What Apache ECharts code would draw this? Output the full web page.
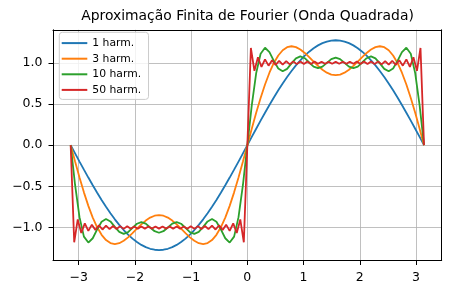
<!DOCTYPE html>
<html>
<head>
<meta charset="utf-8">
<script src="https://cdn.jsdelivr.net/npm/echarts@6/dist/echarts.min.js"></script>
<style>
html,body{margin:0;padding:0;background:#fff;}
#chart{width:450px;height:294px;}
</style>
</head>
<body>
<div id="chart"></div>
<script>
const titleText = 'Aproximação Finita de Fourier (Onda Quadrada)';
const seriesNames = ['1 harm.', '3 harm.', '10 harm.', '50 harm.'];
const seriesColors = ['#1f77b4', '#ff7f0e', '#2ca02c', '#d62728'];

const xGrid = [-3.1416,-3.0631,-2.9845,-2.9060,-2.8274,-2.7489,-2.6704,-2.5918,-2.5133,-2.4347,-2.3562,-2.2777,-2.1991,-2.1206,-2.0420,-1.9635,-1.8850,-1.8064,-1.7279,-1.6493,-1.5708,-1.4923,-1.4137,-1.3352,-1.2566,-1.1781,-1.0996,-1.0210,-0.9425,-0.8639,-0.7854,-0.7069,-0.6283,-0.5498,-0.4712,-0.3927,-0.3142,-0.2356,-0.1571,-0.0785,0,0.0785,0.1571,0.2356,0.3142,0.3927,0.4712,0.5498,0.6283,0.7069,0.7854,0.8639,0.9425,1.0210,1.0996,1.1781,1.2566,1.3352,1.4137,1.4923,1.5708,1.6493,1.7279,1.8064,1.8850,1.9635,2.0420,2.1206,2.1991,2.2777,2.3562,2.4347,2.5133,2.5918,2.6704,2.7489,2.8274,2.9060,2.9845,3.0631,3.1416];

const harm1 = [0,-0.0999,-0.1992,-0.2972,-0.3935,-0.4872,-0.5780,-0.6653,-0.7484,-0.8269,-0.9003,-0.9682,-1.0301,-1.0856,-1.1345,-1.1763,-1.2109,-1.2381,-1.2576,-1.2693,-1.2732,-1.2693,-1.2576,-1.2381,-1.2109,-1.1763,-1.1345,-1.0856,-1.0301,-0.9682,-0.9003,-0.8269,-0.7484,-0.6653,-0.5780,-0.4872,-0.3935,-0.2972,-0.1992,-0.0999,0,0.0999,0.1992,0.2972,0.3935,0.4872,0.5780,0.6653,0.7484,0.8269,0.9003,0.9682,1.0301,1.0856,1.1345,1.1763,1.2109,1.2381,1.2576,1.2693,1.2732,1.2693,1.2576,1.2381,1.2109,1.1763,1.1345,1.0856,1.0301,0.9682,0.9003,0.8269,0.7484,0.6653,0.5780,0.4872,0.3935,0.2972,0.1992,0.0999,0];

const harm3 = [0,-0.1990,-0.3919,-0.5729,-0.7368,-0.8794,-0.9972,-1.0884,-1.1520,-1.1888,-1.2004,-1.1900,-1.1612,-1.1189,-1.0681,-1.0139,-0.9615,-0.9153,-0.8794,-0.8566,-0.8488,-0.8566,-0.8794,-0.9153,-0.9615,-1.0139,-1.0681,-1.1189,-1.1612,-1.1900,-1.2004,-1.1888,-1.1520,-1.0884,-0.9972,-0.8794,-0.7368,-0.5729,-0.3919,-0.1990,0,0.1990,0.3919,0.5729,0.7368,0.8794,0.9972,1.0884,1.1520,1.1888,1.2004,1.1900,1.1612,1.1189,1.0681,1.0139,0.9615,0.9153,0.8794,0.8566,0.8488,0.8566,0.8794,0.9153,0.9615,1.0139,1.0681,1.1189,1.1612,1.1900,1.2004,1.1888,1.1520,1.0884,0.9972,0.8794,0.7368,0.5729,0.3919,0.1990,0];

const harm10 = [0,-0.4834,-0.8737,-1.1101,-1.1823,-1.1301,-1.0228,-0.9301,-0.8959,-0.9256,-0.9918,-1.0533,-1.0773,-1.0550,-1.0035,-0.9538,-0.9338,-0.9531,-0.9990,-1.0444,-1.0631,-1.0444,-0.9990,-0.9531,-0.9338,-0.9538,-1.0035,-1.0550,-1.0773,-1.0533,-0.9918,-0.9256,-0.8959,-0.9301,-1.0228,-1.1301,-1.1823,-1.1101,-0.8737,-0.4834,0,0.4834,0.8737,1.1101,1.1823,1.1301,1.0228,0.9301,0.8959,0.9256,0.9918,1.0533,1.0773,1.0550,1.0035,0.9538,0.9338,0.9531,0.9990,1.0444,1.0631,1.0444,0.9990,0.9531,0.9338,0.9538,1.0035,1.0550,1.0773,1.0533,0.9918,0.9256,0.8959,0.9301,1.0228,1.1301,1.1823,1.1101,0.8737,0.4834,0];

const xFine = [-3.1416,-3.0788,-3.0159,-2.9531,-2.8903,-2.8274,-2.7646,-2.7018,-2.6389,-2.5761,-2.5133,-2.4504,-2.3876,-2.3248,-2.2619,-2.1991,-2.1363,-2.0735,-2.0106,-1.9478,-1.8850,-1.8221,-1.7593,-1.6965,-1.6336,-1.5708,-1.5080,-1.4451,-1.3823,-1.3195,-1.2566,-1.1938,-1.1310,-1.0681,-1.0053,-0.9425,-0.8796,-0.8168,-0.7540,-0.6912,-0.6283,-0.5655,-0.5027,-0.4398,-0.3770,-0.3142,-0.2513,-0.1885,-0.1257,-0.0628,0,0.0628,0.1257,0.1885,0.2513,0.3142,0.3770,0.4398,0.5027,0.5655,0.6283,0.6912,0.7540,0.8168,0.8796,0.9425,1.0053,1.0681,1.1310,1.1938,1.2566,1.3195,1.3823,1.4451,1.5080,1.5708,1.6336,1.6965,1.7593,1.8221,1.8850,1.9478,2.0106,2.0735,2.1363,2.1991,2.2619,2.3248,2.3876,2.4504,2.5133,2.5761,2.6389,2.7018,2.7646,2.8274,2.8903,2.9531,3.0159,3.0788,3.1416];

const harm50 = [0,-1.179,-0.902,-1.067,-0.949,-1.041,-0.965,-1.030,-0.974,-1.024,-0.978,-1.020,-0.981,-1.017,-0.983,-1.016,-0.985,-1.015,-0.986,-1.014,-0.987,-1.013,-0.987,-1.013,-0.987,-1.013,-0.987,-1.013,-0.987,-1.013,-0.987,-1.014,-0.986,-1.015,-0.985,-1.016,-0.983,-1.017,-0.981,-1.020,-0.978,-1.024,-0.974,-1.030,-0.965,-1.041,-0.949,-1.067,-0.902,-1.179,0,1.179,0.902,1.067,0.949,1.041,0.965,1.030,0.974,1.024,0.978,1.020,0.981,1.017,0.983,1.016,0.985,1.015,0.986,1.014,0.987,1.013,0.987,1.013,0.987,1.013,0.987,1.013,0.987,1.013,0.987,1.014,0.986,1.015,0.985,1.016,0.983,1.017,0.981,1.020,0.978,1.024,0.974,1.030,0.965,1.041,0.949,1.067,0.902,1.179,0];

const FONT = 'DejaVu Sans';
const seriesX = [xGrid, xGrid, xGrid, xFine];
const seriesY = [harm1, harm3, harm10, harm50];

function minusFmt(s) { return s.replace('-', '\u2212'); }

const chart = echarts.init(document.getElementById('chart'), null, {renderer: 'canvas'});
const axisCommonHidden = {
  axisLabel: {show: false}, axisTick: {show: false}, splitLine: {show: false},
  axisLine: {show: true, onZero: false, lineStyle: {color: '#000', width: 1}}
};
chart.setOption({
  animation: false,
  backgroundColor: '#fff',
  title: {
    text: titleText, left: 247.5, top: 9, textAlign: 'center', padding: 0,
    textStyle: {fontFamily: FONT, fontSize: 13.9, fontWeight: 'normal', color: '#000'}
  },
  legend: {
    orient: 'vertical', left: 59.3, top: 32.3, padding: [4.3, 7.4, 3, 2.4],
    itemWidth: 25.6, itemHeight: 2, itemGap: 2.6, itemTextGap: 7.7, icon: 'rect',
    backgroundColor: 'rgba(255,255,255,0.8)', borderColor: '#cccccc', borderWidth: 1, borderRadius: 3,
    textStyle: {fontFamily: FONT, fontSize: 10.8, color: '#000', lineHeight: 13},
    data: seriesNames
  },
  grid: {left: 53, right: 8.3, top: 29.8, bottom: 33.5, containLabel: false},
  xAxis: [{
    type: 'value', min: -3.4558, max: 3.4558, splitNumber: 7,
    axisLine: {show: true, onZero: false, lineStyle: {color: '#000', width: 1}},
    axisTick: {show: true, inside: false, length: 4.5, lineStyle: {color: '#000', width: 1}},
    axisLabel: {
      show: true, margin: 10.5, color: '#000', fontFamily: FONT, fontSize: 12.5,
      showMinLabel: false, showMaxLabel: false,
      formatter: v => Math.abs(v - Math.round(v)) < 1e-6 ? minusFmt(String(Math.round(v))) : ''
    },
    splitLine: {show: true, showMinLine: false, showMaxLine: false, lineStyle: {color: '#b0b0b0', width: 0.8}}
  }, Object.assign({type: 'value', position: 'top', min: -3.4558, max: 3.4558}, axisCommonHidden)],
  yAxis: [{
    type: 'value', min: -1.4, max: 1.4, splitNumber: 5,
    axisLine: {show: true, onZero: false, lineStyle: {color: '#000', width: 1}},
    axisTick: {show: true, inside: false, length: 4.5, lineStyle: {color: '#000', width: 1}},
    axisLabel: {
      show: true, margin: 10.5, color: '#000', fontFamily: FONT, fontSize: 12.5,
      showMinLabel: false, showMaxLabel: false,
      formatter: v => Math.abs(v * 2 - Math.round(v * 2)) < 1e-6 ? minusFmt((Math.round(v * 2) / 2).toFixed(1)) : ''
    },
    splitLine: {show: true, showMinLine: false, showMaxLine: false, lineStyle: {color: '#b0b0b0', width: 0.8}}
  }, Object.assign({type: 'value', position: 'right', min: -1.4, max: 1.4}, axisCommonHidden)],
  series: seriesNames.map((name, k) => ({
    name: name, type: 'line', xAxisIndex: 0, yAxisIndex: 0,
    showSymbol: false, symbol: 'none', smooth: false, z: 2 + k,
    color: seriesColors[k],
    lineStyle: {color: seriesColors[k], width: 1.8},
    emphasis: {disabled: true},
    data: seriesX[k].map((x, i) => [x, seriesY[k][i]])
  }))
});
</script>
</body>
</html>
